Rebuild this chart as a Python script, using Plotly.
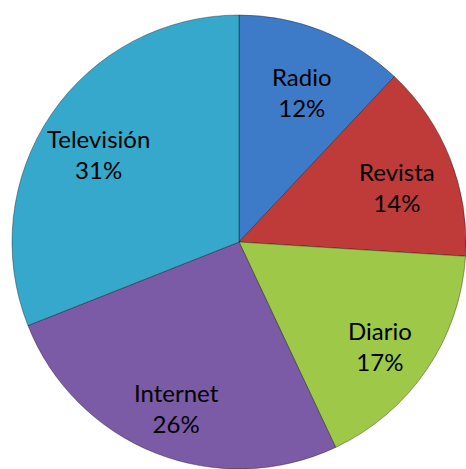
import math
import plotly.graph_objects as go

labels = ["Radio", "Revista", "Diario", "Internet", "Televisión"]
values = [12, 14, 17, 26, 31]
colors = ["#3D7BC8", "#BE3B39", "#9DC848", "#7B5BA6", "#36A8CC"]

W, H = 466, 469
dom_x = [12 / W, 1]
dom_y = [0, 1 - 15 / H]

fig = go.Figure(go.Pie(
    labels=labels,
    values=values,
    sort=False,
    direction="clockwise",
    rotation=0,
    marker=dict(colors=colors, line=dict(color="rgba(0,0,0,0.35)", width=1)),
    textinfo="none",
    domain=dict(x=dom_x, y=dom_y),
    showlegend=False,
    hoverinfo="label+percent",
))

# label positions derived from the data (mid-angle of each slice)
cx_px = (dom_x[0] + dom_x[1]) / 2 * W
cy_px = (1 - (dom_y[0] + dom_y[1]) / 2) * H
R = min((dom_x[1] - dom_x[0]) * W, (dom_y[1] - dom_y[0]) * H) / 2
total = sum(values)
cum = 0
annotations = []
for lab, v in zip(labels, values):
    mid = (cum + v / 2) / total * 2 * math.pi
    cum += v
    r = 0.75 * R
    px = cx_px + r * math.sin(mid)
    py = cy_px - r * math.cos(mid) + 8
    annotations.append(dict(
        x=px / W, y=1 - py / H, xref="paper", yref="paper",
        text=f"{lab}<br>{round(v / total * 100)}%",
        showarrow=False, xanchor="center", yanchor="middle",
        font=dict(family="Lato", size=24, color="black"),
    ))

fig.update_layout(
    width=W, height=H,
    margin=dict(l=0, r=0, t=0, b=0),
    paper_bgcolor="white",
    plot_bgcolor="white",
    annotations=annotations,
)
fig.write_html("out.html")
